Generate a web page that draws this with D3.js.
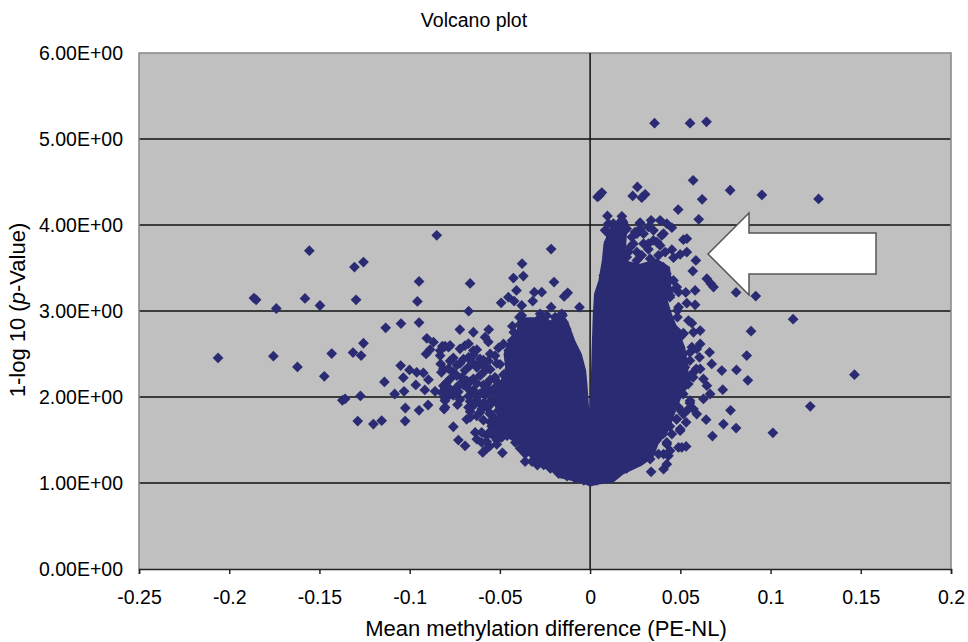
<!DOCTYPE html>
<html>
<head>
<meta charset="utf-8">
<script src="https://cdnjs.cloudflare.com/ajax/libs/d3/7.8.5/d3.min.js"></script>
<style>
  body { margin: 0; background: #fff; }
  text { font-family: "Liberation Sans", Arial, sans-serif; fill: #000; }
</style>
</head>
<body>
<svg width="968" height="642"></svg>
<script>
var xTicks = [-0.25, -0.2, -0.15, -0.1, -0.05, 0, 0.05, 0.1, 0.15, 0.2];
var yTicks = [0, 1, 2, 3, 4, 5, 6];

// the solid middle of the cloud: far too many overlapping points to read one by one,
// so this is its outline
var cloudOutline = [
  [0,.955],[-.0037,.994],[-.0166,1.056],[-.0222,1.142],[-.0296,1.219],[-.0351,1.336],[-.0388,1.433],
  [-.0462,1.53],[-.049,1.647],[-.0517,1.802],[-.0536,1.957],[-.0508,2.113],[-.0471,2.346],[-.048,2.501],
  [-.0453,2.656],[-.0407,2.773],[-.0397,2.928],[-.0305,2.928],[-.0277,2.987],[-.0222,2.889],[-.0157,2.987],
  [-.012,2.87],[-.0083,2.656],[-.0046,2.501],[-.0022,2.307],[-.0015,2.151],[-.0006,1.88],
  [-.0002,1.88],[.0004,2.19],[.0009,2.579],[.0015,2.967],[.0022,3.2],[.0046,3.355],[.0065,3.588],
  [.0074,3.783],[.0111,3.977],[.0139,4.035],[.0176,4.113],[.0212,4.035],[.0203,3.86],[.0194,3.588],
  [.0277,3.55],[.037,3.608],[.0443,3.511],[.0452,3.317],[.0425,3.161],[.0453,2.967],[.049,2.773],
  [.0527,2.579],[.0545,2.346],[.0545,2.19],[.0499,1.957],[.0462,1.763],[.0443,1.627],[.0379,1.452],
  [.0351,1.297],[.0286,1.2],[.0185,1.103],[.0129,1.006],[.0037,.979]
];

var leftTail = [
  [-.085,3.88],[-.1556,3.701],[-.1256,3.569],[-.1306,3.511],[-.0948,3.344],[-.1863,3.15],[-.1851,3.13],
  [-.1739,3.029],[-.158,3.146],[-.1497,3.064],[-.1297,3.13],[-.0957,3.111],[-.0948,2.866],[-.1048,2.854],
  [-.1133,2.804],[-.1256,2.625],[-.1314,2.517],[-.1269,2.482],[-.1432,2.505],[-.2062,2.454],[-.1755,2.474],
  [-.1622,2.35],[-.1473,2.241],[-.114,2.175],[-.105,2.365],[-.1035,2.225],[-.0966,2.14],[-.0916,2.082],
  [-.0859,2.066],[-.1031,2.066],[-.1083,2.035],[-.1273,2.012],[-.1358,1.977],[-.1373,1.961],[-.1024,1.872],
  [-.0948,1.845],[-.0898,1.907],[-.0809,1.86],[-.1288,1.72],[-.1201,1.685],[-.1155,1.724],[-.1025,1.72],
  [-.1001,2.315],[-.0961,2.287],[-.0924,2.28],[-.0896,2.202],[-.0905,2.683],[-.0868,2.637],[-.0887,2.551],
  [-.0909,2.501],[-.0819,2.59],[-.0785,2.579],[-.0831,2.482],[-.0828,2.384],[-.0824,2.287],[-.0804,2.113],
  [-.0804,1.957]
];

var leftShoulder = [
  [-.0216,3.72],[-.0377,3.55],[-.0425,3.383],[-.037,3.406],[-.0665,3.32],[-.02,3.336],[-.0408,3.239],
  [-.0453,3.161],[-.0493,3.095],[-.0421,3.115],[-.0309,3.219],[-.0268,3.219],[-.0318,3.115],[-.0379,3.064],
  [-.0124,3.212],[-.0144,3.169],[-.0216,3.045],[-.0059,3.045],[-.0673,2.998],[-.0392,2.928],[-.0277,2.967],
  [-.0153,2.948],[-.0431,2.823],[-.0722,2.784],[-.0647,2.753],[-.0562,2.784],[-.0582,2.695],[-.0693,2.598],
  [-.0804,2.59],[-.0831,2.54],[-.0647,2.54],[-.0758,2.454],[-.061,2.443],[-.0674,2.462],[-.0554,2.501],
  [-.048,2.617],[-.0813,2.326],[-.0758,2.287],[-.0711,2.229],[-.0647,2.21],[-.0591,2.287],[-.0527,2.229],
  [-.0628,2.346],[-.0665,2.365],[-.0804,2.093],[-.0739,2.113],[-.0674,2.093],[-.061,2.035],[-.0554,2.074],
  [-.0508,2.132],[-.0804,1.88],[-.0735,1.911],[-.0674,1.88],[-.0619,1.938],[-.0573,1.88],[-.0665,1.763],
  [-.061,1.821],[-.0554,1.802],[-.0758,1.654],[-.0637,1.588],[-.0601,1.588],[-.0536,1.55],[-.073,1.499],
  [-.0693,1.433],[-.0601,1.472],[-.0558,1.425],[-.0595,1.355],[-.0486,1.351],[-.036,1.25],[-.0292,1.208],
  [-.0517,1.647],[-.049,1.53]
];

var leftBridge = [
  [-.0776,2.6],[-.0721,2.56],[-.0674,2.62],[-.0628,2.55],[-.0564,2.64],[-.0508,2.57],
  [-.0702,2.44],[-.0647,2.49],[-.0591,2.43],[-.0527,2.48],
  [-.0785,2.33],[-.0739,2.37],[-.0693,2.31],[-.0591,2.36],[-.0554,2.32],[-.0499,2.38],
  [-.0776,2.21],[-.0739,2.25],[-.0684,2.19],[-.061,2.25],[-.0554,2.2],[-.048,2.26],
  [-.0813,2.13],[-.0776,2.09],[-.0702,2.14],[-.0647,2.08],[-.0591,2.14],[-.0536,2.09],
  [-.0804,1.98],[-.0758,2.02],[-.0721,1.97],[-.0674,2.01],[-.0628,1.96],[-.0582,2.02],[-.0536,1.98],
  [-.0647,1.9],[-.0601,1.86],[-.0554,1.91],
  [-.0684,1.74],[-.0628,1.78],[-.0591,1.73],[-.0536,1.77],
  [-.0545,1.66],[-.0508,1.63],[-.0628,1.51],[-.0573,1.55],[-.0517,1.5],[-.0573,1.4],
  [-.0776,2.42],[-.0721,2.39],[-.0656,2.41],[-.0619,2.38],[-.0564,2.42],[-.0517,2.39],
  [-.0795,2.17],[-.0721,2.15],[-.0665,2.18],[-.0628,2.16],[-.0573,2.15],[-.0517,2.18],
  [-.0822,2.05],[-.0776,2.03],[-.073,2.06],[-.0647,2.04],[-.0591,2.07],[-.0527,2.03],
  [-.0665,1.95],[-.0591,1.93],[-.0554,1.95],[-.0508,1.92],
  [-.0665,1.83],[-.0554,1.81],[-.0508,1.84],[-.0554,1.71],[-.0517,1.69],
  [-.0554,1.6],[-.0517,1.57],[-.048,1.61],[-.0573,1.48],[-.0517,1.45]
];

var rightTop = [
  [.0357,5.184],[.0554,5.184],[.0645,5.2],[.0571,4.52],[.0776,4.404],[.0952,4.35],[.1266,4.303],[.0621,4.299],
  [.0488,4.179],[.0602,4.066],[.0262,4.443],[.0305,4.357],[.0236,4.338],[.0286,4.318],[.0041,4.326],
  [.0065,4.377],[.0052,4.346],[.0096,4.105],[.0176,4.101],[.0338,4.054],[.0388,4.054],[.0425,4.015],
  [.0453,3.969],[.0277,4.027],[.0407,3.899],[.0517,3.829],[.0536,3.841],[.0453,3.713],[.0536,3.685],
  [.0499,3.658],[.0462,3.62],[.0586,3.588],[.0569,3.464],[.0647,3.375],[.0669,3.317],[.0684,3.278],
  [.0582,3.239],[.053,3.216],[.0809,3.216],[.0536,3.091],[.0582,3.072],[.0351,3.821],[.037,3.802],
  [.0323,3.717],[.0259,3.685],[.0259,3.899],[.0259,3.588],[.0277,3.957],[.0918,3.173],
  [.0212,3.685],[.024,3.783],[.0203,3.957],[.0296,3.899],[.0323,3.783],[.0388,3.763],[.0416,3.685],
  [.0379,3.647],[.0333,3.608],[.0286,3.647],[.0397,3.88],[.0323,3.977],[.0351,3.938],
  [.0111,3.88],[.0157,3.724],[.0083,3.938],[.0102,4.016],[.0203,3.627]
];

var rightFlank = [
  [.0484,3.006],[.0484,2.928],[.0564,2.858],[.061,2.773],[.0517,2.742],[.0462,2.695],[.0662,2.52],[.0606,2.462],
  [.0674,2.384],[.073,2.307],[.0811,2.315],[.0588,2.326],[.061,2.617],[.0554,2.52],[.0647,2.132],[.0735,2.085],
  [.0628,1.977],[.0665,2.035],[.0573,1.86],[.0591,1.802],[.0554,1.957],[.0778,1.845],[.0643,1.736],[.0739,1.685],
  [.0809,1.639],[.0678,1.546],[.0532,1.705],[.0499,1.608],[.049,1.414],[.0532,1.425],[.0425,1.452],[.0434,1.316],
  [.0407,1.161],[.0338,1.13],[.0333,1.278],[.0425,1.219],[.1125,2.905],[.0892,2.765],[.0868,2.482],[.0874,2.194],
  [.1465,2.26],[.122,1.891],[.1013,1.584],
  [.0462,2.54],[.0471,2.423],[.0508,2.365],[.0564,2.579],[.0591,2.559],[.0545,2.229],[.0573,2.287],[.061,2.326],
  [.0628,2.21],[.0517,2.113],[.049,1.88],[.0545,1.86],[.0517,1.802],[.048,1.744],[.0499,1.627],[.0453,1.569],
  [.0425,1.472],[.0407,1.336],[.0379,1.336],[.0443,1.375],[.0508,1.414],[.0499,2.695],[.0573,2.753],[.0545,2.889],
  [.049,3.045],[.0443,3.18],[.048,3.278],[.0425,3.394],[.0462,3.355],[.049,3.22]
];

// points sitting on the rim of the solid middle, they give it the rough edge
var cloudRim = [
  [-.0507,1.841],[-.0516,1.724],[-.0488,1.62],[-.046,1.55],[-.0414,1.47],[-.0387,1.4],[-.036,1.34],[-.0322,1.25],
  [-.0257,1.21],[-.022,1.17],[-.0174,1.11],[-.0128,1.08],[-.0082,1.05],[-.0035,1.03],[.0037,1.03],[.0072,1.05],
  [.0109,1.08],[.0156,1.13],[.0202,1.17],[.0257,1.25],[.0294,1.33],[.0331,1.4],[.0368,1.5],[.0405,1.57],
  [.0442,1.66],[.0479,1.74],[.0507,1.83],[.0553,1.93],[.0516,2.035],[.0544,2.151],[.0571,2.229],[.0525,2.346],
  [.0553,2.423],[.0516,2.501],[.0479,2.559],[.0442,2.617],[.0516,2.734],[.0479,2.773],[.0442,2.85],[.0442,3.161],
  [.0405,3.278],[.0442,3.239],[.0423,3.433],[.0405,3.511],[.035,3.569],[.0294,3.491],
  [.0104,3.802],[.0122,3.899],[.0129,4.016],[.0176,4.054],[.0194,3.938],[.0148,3.957],[.0121,3.744],[.0104,3.608],
  [.0076,3.414],[.0058,3.2],[.0166,3.821],[.0222,3.744],[.0231,3.86],[.0249,3.918],[.0277,4.016],[.0296,3.783],
  [-.0433,2.656],[-.0451,2.54],[-.0423,2.753],[-.0387,2.85],[-.0379,2.948],[-.0277,2.909],[-.024,2.948],
  [-.0194,2.928],[-.0157,2.967],[-.0148,2.87],[-.0132,2.792],[-.0113,2.617],[-.0095,2.52],[-.0067,2.404],[-.0055,2.307]
];

var allPoints = leftTail.concat(leftShoulder, leftBridge, rightTop, rightFlank, cloudRim);

var svg = d3.select("svg"),
    margin = {top: 53, right: 17, bottom: 73, left: 139},
    width = +svg.attr("width") - margin.left - margin.right,
    height = +svg.attr("height") - margin.top - margin.bottom;

var x = d3.scaleLinear().domain([-0.25, 0.2]).range([0, width]),
    y = d3.scaleLinear().domain([0, 6]).range([height, 0]);

var markColor = "#2a2b73";

var plot = svg.append("g")
    .attr("transform", "translate(" + margin.left + "," + margin.top + ")");

plot.append("rect")
    .attr("width", width)
    .attr("height", height)
    .attr("fill", "#c0c0c0");

// gridlines at each whole value, except the frame ones
plot.selectAll(".grid")
    .data(yTicks.filter(function(d) { return d > 0 && d < 6; }))
  .enter().append("line")
    .attr("class", "grid")
    .attr("x1", 0)
    .attr("x2", width)
    .attr("y1", function(d) { return y(d); })
    .attr("y2", function(d) { return y(d); })
    .attr("stroke", "#111")
    .attr("stroke-width", 1.5);

// left, top and right frame
plot.append("path")
    .attr("d", "M0," + height + "V0H" + width + "V" + height)
    .attr("fill", "none")
    .attr("stroke", "#868686")
    .attr("stroke-width", 1.5);

// vertical axis sits on x = 0
plot.append("line")
    .attr("x1", x(0))
    .attr("x2", x(0))
    .attr("y1", 0)
    .attr("y2", height)
    .attr("stroke", "#111")
    .attr("stroke-width", 1.5);

var xAxis = d3.axisBottom(x)
    .tickValues(xTicks)
    .tickSize(5)
    .tickPadding(16)
    .tickFormat(function(d) { return String(d); });

var yAxis = d3.axisLeft(y)
    .tickValues(yTicks)
    .tickSize(0)
    .tickPadding(16)
    .tickFormat(function(d) { return d.toFixed(2) + "E+00"; });

plot.append("g")
    .attr("class", "axis axis--x")
    .attr("transform", "translate(0," + height + ")")
    .call(xAxis);

plot.append("g")
    .attr("class", "axis axis--y")
    .call(yAxis)
    .select(".domain").remove();

svg.selectAll(".axis text")
    .attr("font-family", "Liberation Sans")
    .attr("font-size", 19.5)
    .attr("fill", "#000");

svg.selectAll(".axis--x path, .axis--x line")
    .attr("stroke", "#222")
    .attr("stroke-width", 1.5);

var cloud = d3.line()
    .x(function(d) { return x(d[0]); })
    .y(function(d) { return y(d[1]); })
    .curve(d3.curveLinearClosed);

plot.append("path")
    .datum(cloudOutline)
    .attr("class", "cloud")
    .attr("d", cloud)
    .attr("fill", markColor);

var diamond = d3.symbol().type(d3.symbolSquare).size(58);

plot.selectAll(".dot")
    .data(allPoints)
  .enter().append("path")
    .attr("class", "dot")
    .attr("d", diamond)
    .attr("transform", function(d) { return "translate(" + x(d[0]) + "," + y(d[1]) + ")rotate(45)"; })
    .attr("fill", markColor);

// white block arrow pointing at the cloud
var arrow = [[708, 254], [749, 213], [749, 233], [876, 233], [876, 274], [749, 274], [749, 295]];

svg.append("polygon")
    .attr("points", arrow.join(" "))
    .attr("fill", "#fff")
    .attr("stroke", "#555")
    .attr("stroke-width", 1.5);

svg.append("text")
    .attr("x", 474)
    .attr("y", 27)
    .attr("text-anchor", "middle")
    .attr("font-size", 19.5)
    .text("Volcano plot");

svg.append("text")
    .attr("x", 546)
    .attr("y", 636)
    .attr("text-anchor", "middle")
    .attr("font-size", 22)
    .text("Mean methylation difference (PE-NL)");

var yTitle = svg.append("text")
    .attr("text-anchor", "middle")
    .attr("transform", "translate(25,310)rotate(-90)")
    .attr("font-size", 22);

yTitle.append("tspan").text("1-log 10 (");
yTitle.append("tspan").attr("font-style", "italic").text("p");
yTitle.append("tspan").text("-Value)");
</script>
</body>
</html>
